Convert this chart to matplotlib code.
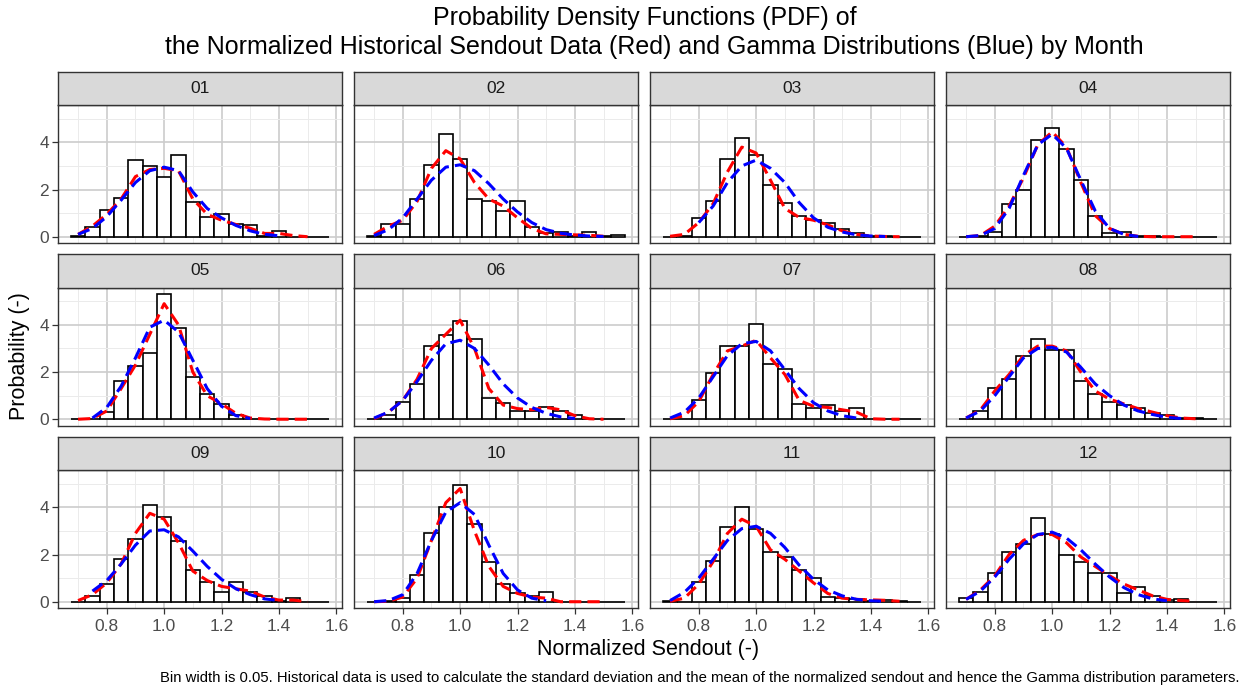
import numpy as np
import matplotlib
matplotlib.use("Agg")
import matplotlib.pyplot as plt
from matplotlib.ticker import MultipleLocator

plt.rcParams['font.family'] = ['Liberation Sans', 'DejaVu Sans']

N = np.nan

MONTHS = ["01", "02", "03", "04", "05", "06", "07", "08", "09", "10", "11", "12"]

BIN_WIDTH = 0.05
BIN_CENTERS = [0.70, 0.75, 0.80, 0.85, 0.90, 0.95, 1.00, 1.05, 1.10,
               1.15, 1.20, 1.25, 1.30, 1.35, 1.40, 1.45, 1.50, 1.55]
CURVE_X = [0.70, 0.75, 0.80, 0.85, 0.90, 0.95, 1.00, 1.05, 1.10,
           1.15, 1.20, 1.25, 1.30, 1.35, 1.40, 1.45, 1.50]

HIST_01 = [0.05, 0.43, 1.14, 1.64, 3.26, 3.00, 2.54, 3.47, 1.47, 0.83, 0.97, 0.54, 0.49, 0.04, 0.26, 0, 0, 0]
HIST_02 = [0.05, 0.53, 0.54, 1.60, 3.03, 4.36, 3.28, 1.60, 1.50, 1.07, 1.50, 0.43, 0.14, 0.18, 0.05, 0.18, 0.04, 0.07]
HIST_03 = [0, 0.03, 0.78, 1.51, 3.31, 4.20, 3.45, 2.19, 1.44, 0.86, 0.70, 0.60, 0.32, 0.17, 0.03, 0.02, 0, 0]
HIST_04 = [0, 0.03, 0.20, 1.40, 2.00, 4.10, 4.60, 3.70, 2.40, 0.90, 0.17, 0.22, 0.02, 0.03, 0, 0, 0, 0]
HIST_05 = [0, 0.02, 0.30, 1.60, 2.24, 2.81, 5.32, 3.86, 1.79, 1.06, 0.64, 0.16, 0.02, 0, 0, 0, 0, 0]
HIST_06 = [0, 0.20, 0.74, 1.50, 3.09, 3.57, 4.17, 3.40, 0.92, 0.68, 0.34, 0.37, 0.50, 0.34, 0.20, 0, 0, 0]
HIST_07 = [0, 0.03, 0.83, 1.94, 3.09, 3.09, 4.04, 2.36, 2.11, 0.64, 0.47, 0.59, 0.33, 0.47, 0, 0, 0, 0]
HIST_08 = [0.03, 0.33, 1.31, 1.71, 2.69, 3.40, 2.94, 2.94, 1.64, 1.09, 0.71, 0.59, 0.47, 0.26, 0.16, 0.05, 0.05, 0]
HIST_09 = [0, 0.24, 0.76, 1.83, 2.67, 4.10, 3.60, 2.57, 1.34, 0.83, 0.43, 0.83, 0.43, 0.24, 0.03, 0.17, 0, 0]
HIST_10 = [0, 0.05, 0.14, 1.14, 2.91, 4.03, 4.93, 3.31, 1.69, 0.74, 0.36, 0.23, 0.40, 0, 0, 0, 0, 0]
HIST_11 = [0.03, 0, 0.84, 1.74, 3.17, 4.03, 3.10, 2.10, 1.90, 1.33, 1.00, 0.21, 0.14, 0.11, 0.03, 0.09, 0.03, 0]
HIST_12 = [0.14, 0.43, 1.23, 2.11, 2.43, 3.54, 2.86, 2.00, 1.67, 1.21, 1.21, 0.36, 0.64, 0.24, 0.09, 0.11, 0, 0]

RED_01 = [0.10, 0.45, 0.95, 1.60, 2.55, 2.85, 2.90, 2.80, 1.60, 0.95, 0.70, 0.52, 0.36, 0.14, 0.14, 0.05, 0.0]
RED_02 = [0.10, 0.45, 0.70, 1.50, 2.90, 3.65, 3.30, 2.30, 1.60, 1.30, 0.80, 0.35, 0.12, 0.10, 0.08, 0.06, 0.02]
RED_03 = [0.02, 0.10, 0.60, 1.40, 2.75, 3.80, 3.55, 2.40, 1.20, 0.82, 0.70, 0.50, 0.25, 0.10, 0.03, 0.01, 0.0]
RED_04 = [0.0, 0.05, 0.45, 1.30, 2.50, 3.90, 4.45, 3.80, 2.30, 0.90, 0.35, 0.10, 0.02, 0.0, 0.0, 0.0, 0.0]
RED_05 = [0.0, 0.03, 0.35, 1.30, 2.30, 3.60, 4.90, 4.00, 2.00, 1.00, 0.65, 0.25, 0.05, 0.01, 0.0, 0.0, 0.0]
RED_06 = [0.02, 0.30, 0.80, 1.70, 3.00, 3.60, 4.20, 3.00, 1.30, 0.60, 0.45, 0.40, 0.50, 0.40, 0.15, 0.02, 0.0]
RED_07 = [0.02, 0.15, 0.75, 1.90, 2.90, 3.10, 3.35, 2.60, 1.90, 0.80, 0.55, 0.50, 0.40, 0.30, 0.02, 0.0, 0.0]
RED_08 = [0.05, 0.40, 1.20, 1.90, 2.70, 3.10, 3.10, 2.90, 2.00, 1.20, 0.85, 0.65, 0.45, 0.30, 0.15, 0.05, 0.02]
RED_09 = [0.05, 0.30, 0.80, 1.60, 2.90, 3.75, 3.50, 2.50, 1.30, 0.90, 0.65, 0.55, 0.45, 0.20, 0.07, 0.07, 0.0]
RED_10 = [0.0, 0.02, 0.20, 1.00, 2.60, 4.20, 4.80, 3.00, 1.50, 0.65, 0.35, 0.20, 0.15, 0.0, 0.0, 0.0, 0.0]
RED_11 = [0.02, 0.15, 0.75, 1.70, 2.90, 3.50, 3.20, 2.20, 1.80, 1.30, 0.80, 0.35, 0.15, 0.10, 0.08, 0.06, 0.02]
RED_12 = [0.10, 0.50, 1.10, 2.00, 2.60, 2.85, 2.85, 2.50, 1.90, 1.50, 1.10, 0.75, 0.50, 0.25, 0.10, 0.05, 0.02]

BLUE_01 = [0.10, 0.35, 0.85, 1.55, 2.30, 2.80, 2.95, 2.80, 1.90, 1.20, 0.80, 0.48, 0.25, 0.10, 0.04, N, N]
BLUE_02 = [0.05, 0.30, 0.80, 1.60, 2.40, 2.95, 3.05, 2.80, 2.25, 1.60, 1.05, 0.60, 0.30, 0.15, 0.07, 0.03, 0.01]
BLUE_03 = [N, N, 0.60, 1.30, 2.30, 3.00, 3.25, 2.90, 2.30, 1.45, 0.80, 0.40, 0.20, 0.08, 0.03, 0.01, N]
BLUE_04 = [0.0, 0.05, 0.35, 1.20, 2.60, 3.90, 4.35, 3.75, 2.40, 1.10, 0.35, 0.10, 0.01, N, N, N, N]
BLUE_05 = [N, 0.05, 0.50, 1.40, 2.60, 3.90, 4.20, 3.70, 2.50, 1.30, 0.55, 0.15, 0.03, N, N, N, N]
BLUE_06 = [0.05, 0.30, 0.80, 1.60, 2.50, 3.20, 3.35, 3.00, 2.30, 1.50, 0.90, 0.50, 0.25, 0.10, 0.03, N, N]
BLUE_07 = [0.05, 0.30, 0.90, 1.80, 2.70, 3.20, 3.30, 2.90, 2.10, 1.30, 0.70, 0.35, 0.15, 0.05, N, N, N]
BLUE_08 = [0.05, 0.35, 1.00, 1.80, 2.60, 3.00, 3.05, 2.85, 2.20, 1.50, 1.00, 0.60, 0.35, 0.20, 0.08, 0.03, N]
BLUE_09 = [N, 0.45, 0.90, 1.60, 2.40, 3.00, 3.05, 2.75, 2.15, 1.50, 0.95, 0.55, 0.30, 0.12, 0.05, N, N]
BLUE_10 = [0.0, 0.05, 0.30, 1.20, 2.60, 3.80, 4.20, 3.70, 2.40, 1.20, 0.50, 0.15, 0.04, N, N, N, N]
BLUE_11 = [0.05, 0.40, 1.00, 1.80, 2.60, 3.10, 3.20, 2.90, 2.30, 1.55, 0.95, 0.50, 0.25, 0.10, 0.04, 0.02, N]
BLUE_12 = [0.10, 0.45, 1.05, 1.80, 2.45, 2.85, 2.95, 2.70, 2.20, 1.60, 1.05, 0.60, 0.30, 0.12, 0.04, N, N]

HISTS = [HIST_01, HIST_02, HIST_03, HIST_04, HIST_05, HIST_06,
         HIST_07, HIST_08, HIST_09, HIST_10, HIST_11, HIST_12]
REDS = [RED_01, RED_02, RED_03, RED_04, RED_05, RED_06,
        RED_07, RED_08, RED_09, RED_10, RED_11, RED_12]
BLUES = [BLUE_01, BLUE_02, BLUE_03, BLUE_04, BLUE_05, BLUE_06,
         BLUE_07, BLUE_08, BLUE_09, BLUE_10, BLUE_11, BLUE_12]

TITLE_1 = "Probability Density Functions (PDF) of"
TITLE_2 = "the Normalized Historical Sendout Data (Red) and Gamma Distributions (Blue) by Month"
XLABEL = "Normalized Sendout (-)"
YLABEL = "Probability (-)"
CAPTION = ("Bin width is 0.05. Historical data is used to calculate the standard deviation "
           "and the mean of the normalized sendout and hence the Gamma distribution parameters.")

# ---- layout (pixels) ----
W, H = 1253, 689
fig = plt.figure(figsize=(W / 100, H / 100), dpi=100)
fig.patch.set_facecolor("white")
LEFTS = [58, 354, 650, 946]
PW = 284
BOTTOMS = [243, 425.5, 608]
PH = 138
SH = 33.5

lo = BIN_CENTERS[0] - BIN_WIDTH / 2
hi = BIN_CENTERS[-1] + BIN_WIDTH / 2
xpad = 0.05 * (hi - lo)
ymax = max(max(h) for h in HISTS)
ypad = 0.05 * ymax

GRID_MAJOR = "#cccccc"
GRID_MINOR = "#ebebeb"
DARK = "#333333"
TICKTXT = "#4d4d4d"

for k, m in enumerate(MONTHS):
    r, c = divmod(k, 4)
    x0 = LEFTS[c]
    yb = BOTTOMS[r]
    ax = fig.add_axes([x0 / W, 1 - yb / H, PW / W, PH / H])
    sax = fig.add_axes([x0 / W, 1 - (yb - PH) / H, PW / W, SH / H])

    # strip
    sax.set_facecolor("#d9d9d9")
    sax.set_xticks([])
    sax.set_yticks([])
    for s in sax.spines.values():
        s.set_color(DARK)
        s.set_linewidth(1.0)
    sax.text(0.5, 0.5, m, ha="center", va="center", fontsize=12.5,
             color="#1a1a1a", transform=sax.transAxes)

    # panel
    ax.set_xlim(lo - xpad, hi + xpad)
    ax.set_ylim(-ypad, ymax + ypad)
    ax.xaxis.set_major_locator(MultipleLocator(0.2))
    ax.xaxis.set_minor_locator(MultipleLocator(0.1))
    ax.yaxis.set_major_locator(MultipleLocator(2))
    ax.yaxis.set_minor_locator(MultipleLocator(1))
    ax.set_axisbelow(True)
    ax.grid(which="major", color=GRID_MAJOR, linewidth=1.2)
    ax.grid(which="minor", color=GRID_MINOR, linewidth=0.7)
    for s in ax.spines.values():
        s.set_color(DARK)
        s.set_linewidth(1.0)

    ax.bar(BIN_CENTERS, HISTS[k], width=BIN_WIDTH, color="white",
           edgecolor="black", linewidth=1.2, zorder=2)
    ax.plot(CURVE_X, REDS[k], color="#ff0000", linewidth=2.2,
            linestyle=(0, (4, 2)), zorder=3)
    ax.plot(CURVE_X, BLUES[k], color="#0000ff", linewidth=2.2,
            linestyle=(0, (4, 2)), zorder=4)

    ax.tick_params(which="minor", length=0)
    ax.tick_params(which="major", direction="out", length=4, width=0.9,
                   color=DARK, labelsize=12.5, labelcolor=TICKTXT, pad=2.5)
    if c != 0:
        ax.tick_params(axis="y", which="both", left=False, labelleft=False)
    else:
        ax.set_yticks([0, 2, 4])
        ax.set_yticklabels(["0", "2", "4"])
        ax.set_ylim(-ypad, ymax + ypad)
    if r != 2:
        ax.tick_params(axis="x", which="both", bottom=False, labelbottom=False)
    else:
        ax.set_xticks([0.8, 1.0, 1.2, 1.4, 1.6])
        ax.set_xticklabels(["0.8", "1.0", "1.2", "1.4", "1.6"])
        ax.set_xlim(lo - xpad, hi + xpad)
        ax.tick_params(axis="x", pad=4)

fig.text(645 / W, 1 - 18 / H, TITLE_1, ha="center", va="center", fontsize=18, color="black")
fig.text(654 / W, 1 - 47 / H, TITLE_2, ha="center", va="center", fontsize=18, color="black")
fig.text(648 / W, 1 - 650 / H, XLABEL, ha="center", va="center", fontsize=15.5, color="black")
fig.text(20 / W, 1 - 356 / H, YLABEL, ha="center", va="center", rotation=90,
         fontsize=15.5, color="black")
fig.text(1240 / W, 1 - 678 / H, CAPTION, ha="right", va="center", fontsize=10.75, color="black")

fig.savefig("out.png", dpi=100, facecolor="white")
